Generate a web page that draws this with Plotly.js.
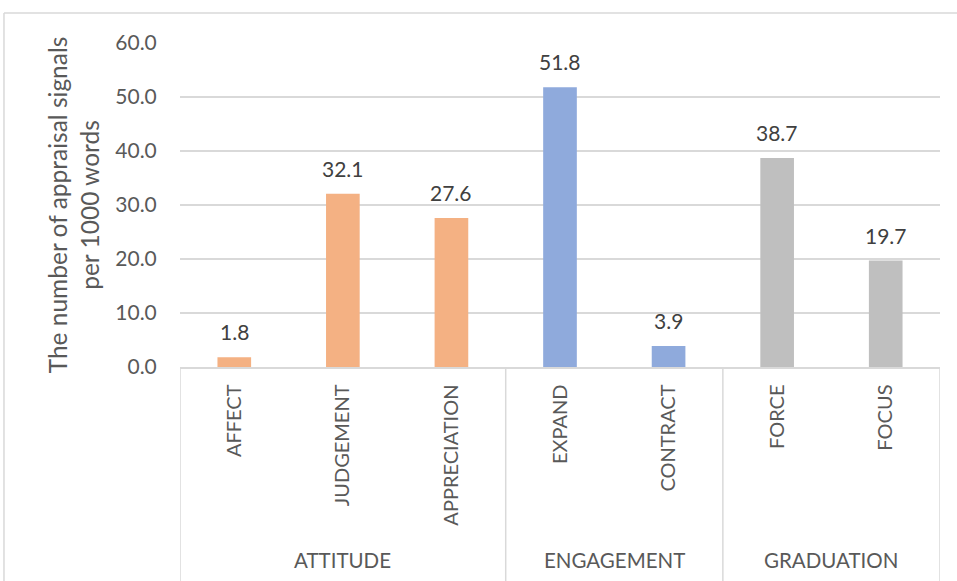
<!DOCTYPE html>
<html>
<head>
<meta charset="utf-8">
<script src="https://cdn.plot.ly/plotly-3.0.1.min.js"></script>
<style>html,body{margin:0;padding:0;background:#fff;}#chart{width:957px;height:581px;}</style>
</head>
<body>
<div id="chart"></div>
<script>
const categories = ["AFFECT", "JUDGEMENT", "APPRECIATION", "EXPAND", "CONTRACT", "FORCE", "FOCUS"];
const groups = ["ATTITUDE", "ATTITUDE", "ATTITUDE", "ENGAGEMENT", "ENGAGEMENT", "GRADUATION", "GRADUATION"];
const values = [1.8, 32.1, 27.6, 51.8, 3.9, 38.7, 19.7];
const groupColors = {ATTITUDE: "#F4B183", ENGAGEMENT: "#8FAADC", GRADUATION: "#BFBFBF"};
const yTitle = "The number of appraisal signals<br>per 1000 words";

const FONT = "Lato, 'Open Sans', sans-serif";
const TXT = "#595959";
const LINE = "#D9D9D9";

const idx = categories.map((_, i) => i);

const trace = {
  type: "bar",
  x: idx,
  y: values,
  marker: {color: groups.map(g => groupColors[g])},
  width: 0.31,
  hoverinfo: "x+y",
  showlegend: false
};

// value labels
const annotations = values.map((v, i) => ({
  x: i, y: v, xref: "x", yref: "y",
  text: v.toFixed(1), showarrow: false,
  yanchor: "bottom", yshift: 11,
  font: {family: FONT, size: 21, color: "#404040"}
}));

// group labels and separators
const uniqueGroups = [...new Set(groups)];
const shapes = [];
let boundaries = [-0.5];
uniqueGroups.forEach(g => {
  const members = idx.filter(i => groups[i] === g);
  const mid = (members[0] + members[members.length - 1]) / 2;
  boundaries.push(members[members.length - 1] + 0.5);
  annotations.push({
    x: mid, y: -0.596, xref: "x", yref: "paper",
    text: g, showarrow: false, yanchor: "middle",
    font: {family: FONT, size: 20.5, color: TXT}
  });
});
boundaries.forEach(b => {
  shapes.push({type: "line", xref: "x", yref: "paper", x0: b, x1: b, y0: 0, y1: -0.7,
    line: {color: LINE, width: 1.5}});
});
// outer chart border
shapes.push({type: "line", xref: "paper", yref: "paper", x0: -0.2316, x1: 1.03, y0: 1.0926, y1: 1.0926,
  line: {color: LINE, width: 1.5}});
shapes.push({type: "line", xref: "paper", yref: "paper", x0: -0.2316, x1: -0.2316, y0: 1.0926, y1: -0.7,
  line: {color: LINE, width: 1.5}});

const layout = {
  width: 957, height: 581,
  margin: {l: 180, r: 17, t: 43, b: 214},
  paper_bgcolor: "#fff", plot_bgcolor: "#fff",
  font: {family: FONT, color: TXT},
  bargap: 0.69,
  xaxis: {
    tickmode: "array", tickvals: idx, ticktext: categories,
    tickangle: -90, range: [-0.5, 6.5],
    showgrid: false, zeroline: false,
    showline: true, linecolor: LINE, linewidth: 1.5,
    ticks: "outside", ticklen: 8, tickcolor: "rgba(0,0,0,0)",
    tickfont: {family: FONT, size: 20, color: TXT},
    automargin: false, fixedrange: true
  },
  yaxis: {
    range: [0, 60], dtick: 10, tickformat: ".1f",
    showgrid: true, gridcolor: LINE, gridwidth: 1.5,
    zeroline: false, showline: false,
    ticks: "outside", ticklen: 18, tickcolor: "rgba(0,0,0,0)",
    tickfont: {family: FONT, size: 21, color: TXT},
    title: {text: yTitle, font: {family: FONT, size: 24.5, color: TXT}, standoff: 8},
    automargin: false, fixedrange: true
  },
  annotations: annotations,
  shapes: shapes
};

Plotly.newPlot("chart", [trace], layout, {displayModeBar: false, staticPlot: true});
</script>
</body>
</html>
